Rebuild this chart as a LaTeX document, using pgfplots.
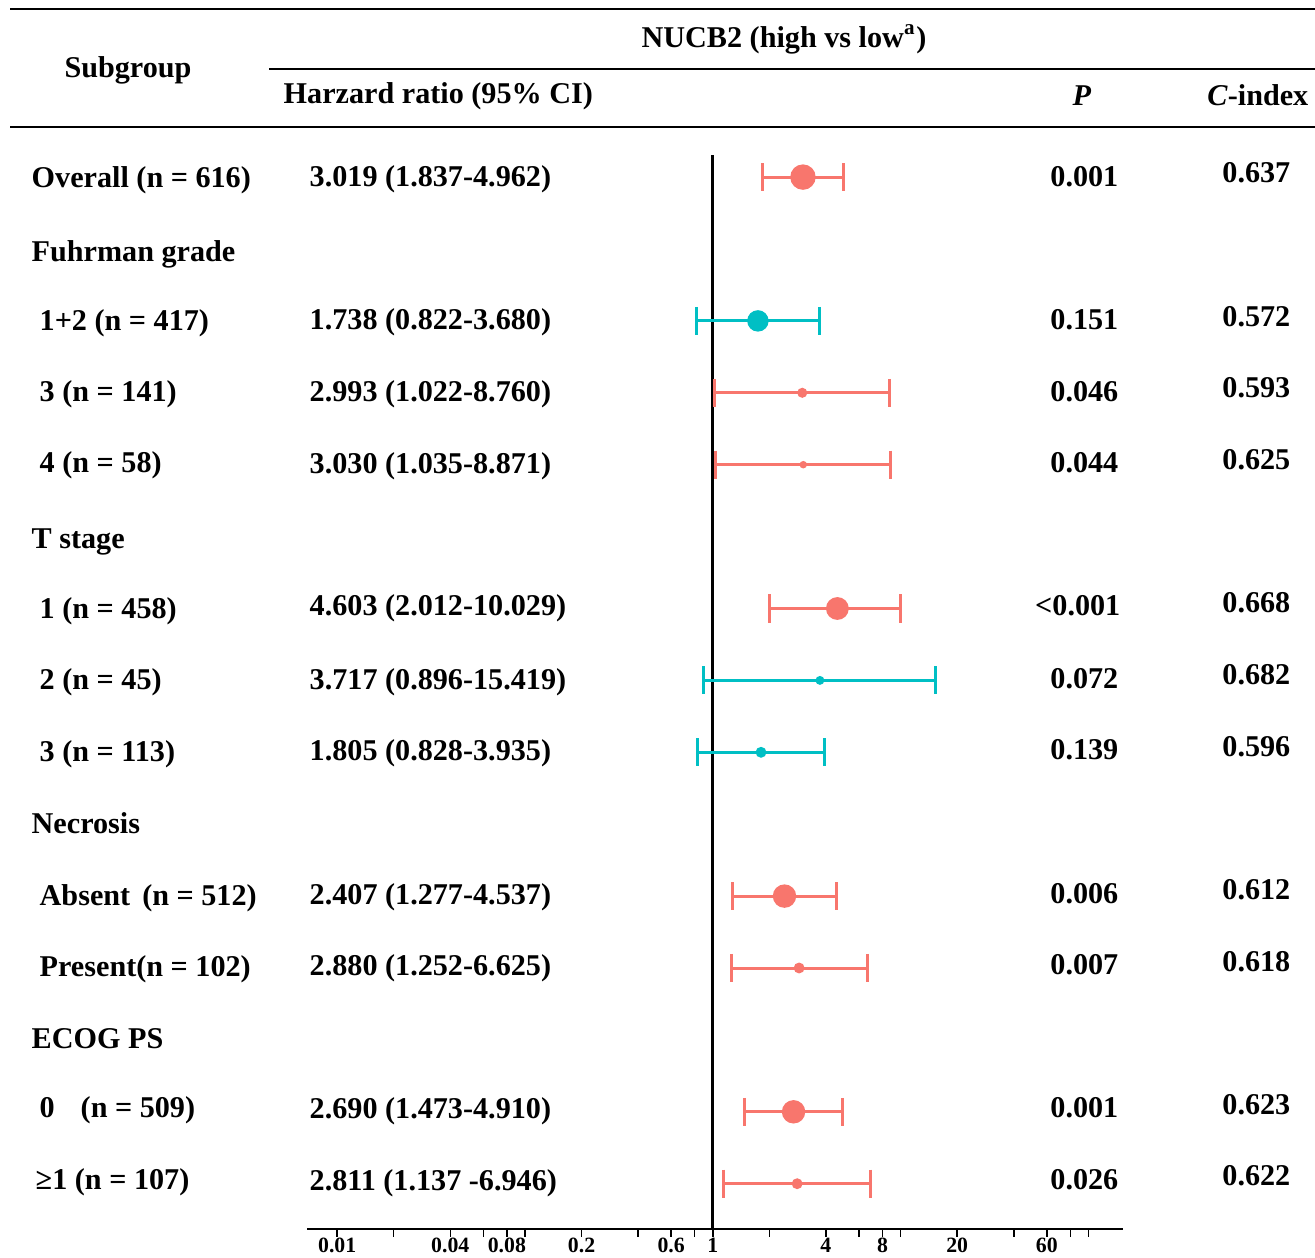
\documentclass[border=0pt]{standalone}
\usepackage{pgfplots}
\pgfplotsset{compat=1.18}
\usepackage{fontspec}
\setmainfont{Liberation Serif}
\definecolor{cred}{HTML}{F8766D}
\definecolor{cteal}{HTML}{00BFC4}
\begin{document}
\begin{tikzpicture}[x=0.01cm,y=0.01cm,font=\fontsize{8.58}{10}\selectfont\bfseries]
\useasboundingbox (0,0) rectangle (1315,-1258);
% rules
\draw[line width=0.027cm] (10,-9) -- (1315,-9);
\draw[line width=0.025cm] (269,-69) -- (1315,-69);
\draw[line width=0.027cm] (10,-127) -- (1315,-127);
% header
\node[anchor=base, inner sep=0] at (784,-48) {NUCB2 (high vs low\textsuperscript{a})};
\node[anchor=base, inner sep=0] at (128,-78) {Subgroup};
\node[anchor=base west, inner sep=0] at (283,-104) {Harzard ratio (95\% CI)};
\node[anchor=base, inner sep=0] at (1082,-106) {\textit{P}};
\node[anchor=base east, inner sep=0] at (1309,-106) {\textit{C}-index};
% row labels
\begin{scope}[every node/.style={anchor=base west, inner sep=0}]
\node at (31,-188) {Overall (n = 616)};
\node at (31,-262) {Fuhrman grade};
\node at (39,-331) {1+2 (n = 417)};
\node at (39,-402) {3 (n = 141)};
\node at (39,-473) {4 (n = 58)};
\node at (31,-548) {T stage};
\node at (39,-618) {1 (n = 458)};
\node at (39,-689) {2 (n = 45)};
\node at (39,-761) {3 (n = 113)};
\node at (31,-833) {Necrosis};
\node at (39,-905) {Absent\hspace{0.4em}(n = 512)};
\node at (39,-976) {Present(n = 102)};
\node at (31,-1048) {ECOG PS};
\node at (39,-1117) {0};
\node at (80,-1117) {(n = 509)};
\node at (35,-1189) {≥1 (n = 107)};
% HR column
\node at (309,-187) {3.019 (1.837-4.962)};
\node at (309,-330) {1.738 (0.822-3.680)};
\node at (309,-402) {2.993 (1.022-8.760)};
\node at (309,-474) {3.030 (1.035-8.871)};
\node at (309,-616) {4.603 (2.012-10.029)};
\node at (309,-689) {3.717 (0.896-15.419)};
\node at (309,-760) {1.805 (0.828-3.935)};
\node at (309,-904) {2.407 (1.277-4.537)};
\node at (309,-975) {2.880 (1.252-6.625)};
\node at (309,-1118) {2.690 (1.473-4.910)};
\node at (309,-1190) {2.811 (1.137 -6.946)};
\end{scope}
\begin{scope}[every node/.style={anchor=base east, inner sep=0}]
\node at (1119,-187) {0.001};
\node at (1119,-330) {0.151};
\node at (1119,-402) {0.046};
\node at (1119,-473) {0.044};
\node at (1121,-616) {<0.001};
\node at (1119,-688) {0.072};
\node at (1119,-759) {0.139};
\node at (1119,-903) {0.006};
\node at (1119,-974) {0.007};
\node at (1119,-1117) {0.001};
\node at (1119,-1189) {0.026};
% C-index
\node at (1291,-183) {0.637};
\node at (1291,-327) {0.572};
\node at (1291,-398) {0.593};
\node at (1291,-470) {0.625};
\node at (1291,-613) {0.668};
\node at (1291,-684) {0.682};
\node at (1291,-756) {0.596};
\node at (1291,-899) {0.612};
\node at (1291,-971) {0.618};
\node at (1291,-1114) {0.623};
\node at (1291,-1185) {0.622};
\end{scope}
\begin{axis}[
  at={(3.07cm,-12.28cm)}, anchor=south west,
  width=8.15cm, height=10.73cm, scale only axis,
  xmode=log, xmin=0.00692, xmax=152,
  ymin=-14.626, ymax=0.306,
  axis x line=bottom, axis y line=none,
  x axis line style={-, line width=0.02cm},
  xtick={0.01,0.02,0.04,0.06,0.08,0.1,0.2,0.4,0.6,0.8,1,2,4,6,8,10,20,40,60,80,100},
  xticklabels={0.01,,0.04,,0.08,,0.2,,0.6,,1,,4,,8,,20,,60,,},
  xminorticks=false,
  tick align=outside, major tick length=0.08cm,
  every tick/.style={black, line width=0.015cm},
  xticklabel style={font=\fontsize{6.2}{7}\selectfont\bfseries, inner sep=0.3pt},
  clip=false,
]
\addplot[black, line width=0.03cm, forget plot] coordinates {(1,0.306) (1,-14.626)};
% CI lines with caps
\pgfplotsset{ci/.style={line width=0.03cm, mark=|, mark size=0.14cm, forget plot}}
\addplot[cred, ci] coordinates {(1.837,0) (4.962,0)};
\addplot[cteal, ci] coordinates {(0.822,-2) (3.680,-2)};
\addplot[cred, ci] coordinates {(1.022,-3) (8.760,-3)};
\addplot[cred, ci] coordinates {(1.035,-4) (8.871,-4)};
\addplot[cred, ci] coordinates {(2.012,-6) (10.029,-6)};
\addplot[cteal, ci] coordinates {(0.896,-7) (15.419,-7)};
\addplot[cteal, ci] coordinates {(0.828,-8) (3.935,-8)};
\addplot[cred, ci] coordinates {(1.277,-10) (4.537,-10)};
\addplot[cred, ci] coordinates {(1.252,-11) (6.625,-11)};
\addplot[cred, ci] coordinates {(1.473,-13) (4.910,-13)};
\addplot[cred, ci] coordinates {(1.137,-14) (6.946,-14)};
% point estimates
\pgfplotsset{pt/.style={only marks, mark=*, mark size=#1, forget plot}}
\addplot[cred, pt=0.12cm] coordinates {(3.019,0)};
\addplot[cteal, pt=0.10cm] coordinates {(1.738,-2)};
\addplot[cred, pt=0.043cm] coordinates {(2.993,-3)};
\addplot[cred, pt=0.03cm] coordinates {(3.030,-4)};
\addplot[cred, pt=0.107cm] coordinates {(4.603,-6)};
\addplot[cteal, pt=0.037cm] coordinates {(3.717,-7)};
\addplot[cteal, pt=0.047cm] coordinates {(1.805,-8)};
\addplot[cred, pt=0.11cm] coordinates {(2.407,-10)};
\addplot[cred, pt=0.047cm] coordinates {(2.880,-11)};
\addplot[cred, pt=0.11cm] coordinates {(2.690,-13)};
\addplot[cred, pt=0.047cm] coordinates {(2.811,-14)};
\end{axis}
\end{tikzpicture}
\end{document}
